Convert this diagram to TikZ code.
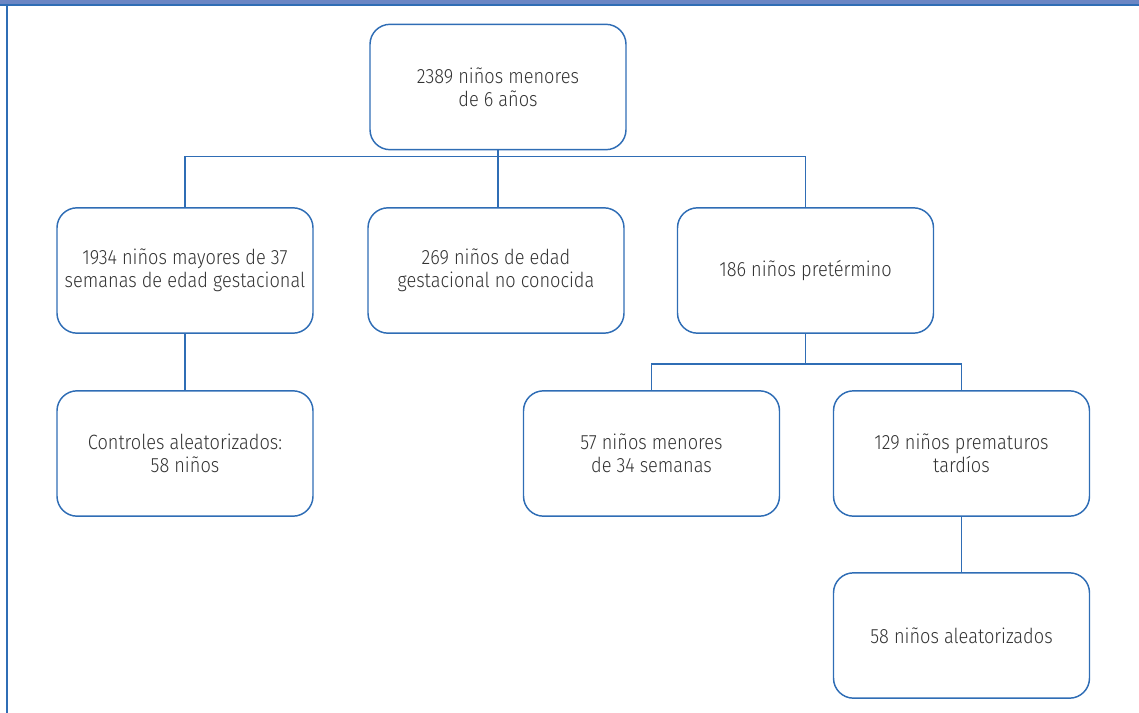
\documentclass[tikz,border=0pt]{standalone}
\usepackage{fontspec}
\setmainfont{Fira Sans Light}[FakeStretch=0.88]
\usetikzlibrary{positioning}
\definecolor{boxblue}{HTML}{2F6DB5}
\definecolor{barblue}{HTML}{6B86C4}
\definecolor{txtgray}{HTML}{333333}

\begin{document}
\begin{tikzpicture}[
    x=0.75pt, y=-0.75pt,
    box/.style={draw=boxblue, line width=1.1pt, rounded corners=15pt, minimum width=192pt, minimum height=94pt, align=center, font=\fontsize{15.5}{17.3}\selectfont, text=txtgray},
    con/.style={draw=boxblue, line width=1.1pt}
]
\useasboundingbox (0,0) rectangle (1139,713);
% frame
\fill[barblue] (0,0) rectangle (1139,5);
\draw[boxblue, line width=1.5pt] (0,5.5) -- (1139,5.5);
\draw[boxblue, line width=2pt] (7,5) -- (7,713);

\node[box] (total) at (498,87) {2389 niños menores\\de 6 años};
\node[box] (term) at (185,270.5) {1934 niños mayores de 37\\semanas de edad gestacional};
\node[box] (unknown) at (496,270.5) {269 niños de edad\\gestacional no conocida};
\node[box] (pre) at (805.5,270.5) {186 niños pretérmino};
\node[box] (ctrl) at (185,453.5) {Controles aleatorizados:\\58 niños};
\node[box] (early) at (651.5,453.5) {57 niños menores\\de 34 semanas};
\node[box] (late) at (961.5,453.5) {129 niños prematuros\\tardíos};
\node[box] (rand) at (961.5,635.5) {58 niños aleatorizados};

\draw[con] (total.south) -- (total.south |- unknown.north);
\draw[con] (total.south) -- ++(0,6) -| (term.north);
\draw[con] (total.south) -- ++(0,6) -| (pre.north);
\draw[con] (term) -- (ctrl);
\draw[con] (pre.south) -- ++(0,30) -| (early.north);
\draw[con] (pre.south) -- ++(0,30) -| (late.north);
\draw[con] (late) -- (rand);
\end{tikzpicture}
\end{document}
